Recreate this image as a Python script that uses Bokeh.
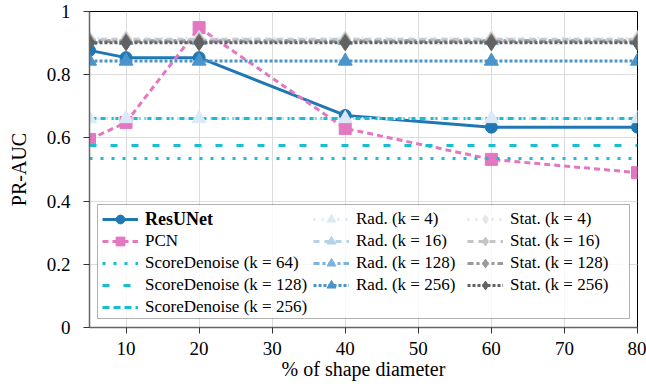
from bokeh.plotting import figure
from bokeh.models import (Legend, LegendItem, BoxAnnotation, FixedTicker,
                          CustomJSTickFormatter, Range1d)
from bokeh.embed import file_html
from bokeh.resources import INLINE

# ---- data ----
x = [5, 10, 20, 40, 60, 80]
resunet = [0.877, 0.854, 0.854, 0.671, 0.634, 0.634]
pcn = [0.595, 0.649, 0.949, 0.630, 0.532, 0.490]
sd_k64 = 0.535
sd_k128 = 0.576
sd_k256 = 0.661
rad_k4 = 0.661
rad_k16 = 0.912
rad_k128 = 0.908
rad_k256 = 0.843
stat_k4 = 0.915
stat_k16 = 0.910
stat_k128 = 0.905
stat_k256 = 0.901
x_ticks = [10, 20, 30, 40, 50, 60, 70, 80]
y_ticks = [0, 0.2, 0.4, 0.6, 0.8, 1.0]

SERIF = "'Liberation Serif', serif"

p = figure(width=646, height=387, output_backend="svg", toolbar_location=None,
           x_range=Range1d(5, 80), y_range=Range1d(0, 1),
           min_border_left=89, min_border_right=9, min_border_top=11,
           min_border_bottom=60)

p.outline_line_color = "black"
p.outline_line_width = 1
p.xgrid.ticker = FixedTicker(ticks=x_ticks)
p.ygrid.ticker = FixedTicker(ticks=y_ticks)
p.grid.grid_line_color = "#dcdcdc"
p.grid.grid_line_width = 1

for ax in (p.xaxis[0], p.yaxis[0]):
    ax.axis_line_color = "#666666"
    ax.axis_line_width = 1.5
    ax.major_tick_line_color = "#333333"
    ax.major_tick_out = 6
    ax.major_tick_in = 0
    ax.minor_tick_out = 0
    ax.minor_tick_in = 0
    ax.major_label_text_font = SERIF
    ax.major_label_text_font_size = "19px"
    ax.major_label_text_color = "black"
    ax.axis_label_text_font = SERIF
    ax.axis_label_text_font_size = "20px"
    ax.axis_label_text_font_style = "normal"
    ax.axis_label_text_color = "black"

p.xaxis.ticker = FixedTicker(ticks=x_ticks)
p.yaxis.ticker = FixedTicker(ticks=y_ticks)
p.yaxis.formatter = CustomJSTickFormatter(
    code="return (tick == 0) ? '0' : (tick == 1 ? '1' : tick.toFixed(1));")
p.xaxis.axis_label = "% of shape diameter"
p.yaxis.axis_label = "PR-AUC"
p.xaxis.major_label_standoff = 8
p.xaxis.axis_label_standoff = 0
p.yaxis.major_label_standoff = 13
p.yaxis.axis_label_standoff = 14

LW = 3


def hline(val, color, dash, width=LW):
    return p.line(x, [val] * len(x), line_color=color, line_dash=dash, line_width=width)


def series(vals, color, dash, marker, size, width=LW):
    r1 = p.line(x, vals, line_color=color, line_dash=dash, line_width=width)
    r2 = p.scatter(x, vals, marker=marker, size=size, fill_color=color,
                   line_color=color)
    return [r1, r2]


C_RES = "#1f77b4"
C_PCN = "#e377c2"
C_SD = "#17becf"
C_RAD = ["#dbe9f6", "#b5d2ea", "#7fb3dc", "#4a94cb"]
C_STAT = ["#e6e6e6", "#c4c4c4", "#9a9a9a", "#626262"]

r_res = series(resunet, C_RES, "solid", "circle", 12)
r_pcn = series(pcn, C_PCN, "6 4", "square", 12)
r_sd64 = [hline(sd_k64, C_SD, "3 8")]
r_sd128 = [hline(sd_k128, C_SD, "7 14")]
r_sd256 = [hline(sd_k256, C_SD, "7 4")]

rad_dash = ["2 6", "6 5", "6 3 3 3", "3 2"]
stat_dash = rad_dash
r_rad = []
for val, col, dash in zip([rad_k4, rad_k16, rad_k128, rad_k256], C_RAD, rad_dash):
    r_rad.append(series([val] * len(x), col, dash, "triangle", 14))
r_stat = []
for val, col, dash in zip([stat_k4, stat_k16, stat_k128, stat_k256], C_STAT, stat_dash):
    r_stat.append(series([val] * len(x), col, dash, "diamond", 16))

# legend box
x0, x1 = 5, 80
fx = lambda px: x0 + (px - 89) / (637 - 89) * (x1 - x0)
fy = lambda py: (327 - py) / 316.0
p.add_layout(BoxAnnotation(left=fx(97), right=fx(629), top=fy(204), bottom=fy(318),
                           fill_color="white", fill_alpha=0.8,
                           line_color="black", line_width=1, level="annotation"))


def make_legend(items, loc, bold=False):
    lg = Legend(items=items, location=loc, orientation="vertical",
                padding=0, margin=0, spacing=0,
                glyph_width=36, glyph_height=22, label_height=22,
                label_standoff=7, border_line_alpha=0,
                background_fill_alpha=0,
                label_text_font=SERIF,
                label_text_font_size="18px" if bold else "17px",
                label_text_font_style="bold" if bold else "normal",
                label_text_color="black")
    p.add_layout(lg, "center")
    return lg


make_legend([LegendItem(label="ResUNet", renderers=r_res)], (13, 97), bold=True)
make_legend([LegendItem(label="PCN", renderers=r_pcn),
             LegendItem(label="ScoreDenoise (k = 64)", renderers=r_sd64),
             LegendItem(label="ScoreDenoise (k = 128)", renderers=r_sd128),
             LegendItem(label="ScoreDenoise (k = 256)", renderers=r_sd256)], (13, 9))
make_legend([LegendItem(label="Rad. (k = %d)" % k, renderers=r)
             for k, r in zip([4, 16, 128, 256], r_rad)], (224, 31))
make_legend([LegendItem(label="Stat. (k = %d)" % k, renderers=r)
             for k, r in zip([4, 16, 128, 256], r_stat)], (378, 31))

open("out.html", "w").write(file_html(p, INLINE))
